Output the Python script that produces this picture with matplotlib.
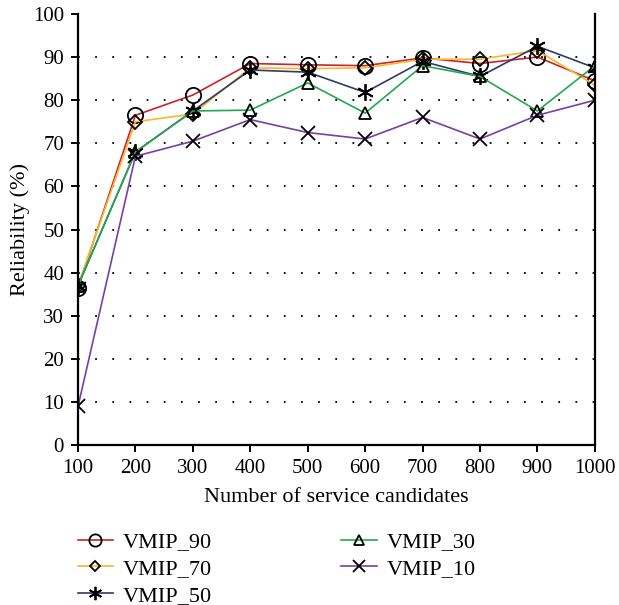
import matplotlib
matplotlib.use("Agg")
import matplotlib.pyplot as plt

plt.rcParams["font.family"] = "Liberation Serif"

candidates = [100, 200, 300, 400, 500, 600, 700, 800, 900, 1000]
vmip_90 = [36.5, 76.5, 81.2, 88.5, 88.2, 88.0, 89.8, 88.5, 90.0, 84.5]
vmip_70 = [37.0, 75.0, 76.8, 87.5, 87.3, 87.5, 89.5, 89.5, 91.5, 83.5]
vmip_50 = [37.0, 68.0, 77.5, 87.0, 86.5, 81.8, 89.0, 85.5, 92.5, 87.5]
vmip_30 = [37.0, 68.0, 77.5, 77.7, 84.0, 77.0, 88.0, 85.5, 77.5, 88.0]
vmip_10 = [9.0, 67.0, 70.5, 75.5, 72.5, 71.0, 76.0, 71.0, 76.5, 80.0]

fig = plt.figure(figsize=(6.19, 6.05), dpi=100)
ax = fig.add_axes([0.126, 0.264, 0.835, 0.713])

series = [
    ("VMIP_90", vmip_90, "#cc2229", "o", 11),
    ("VMIP_70", vmip_70, "#f5b82e", "D", 7),
    ("VMIP_50", vmip_50, "#2e3a6e", (6, 2, 0), 12),
    ("VMIP_30", vmip_30, "#22a94f", "^", 9),
    ("VMIP_10", vmip_10, "#7a3fa0", "x", 10),
]
for name, vals, col, mk, ms in series:
    ax.plot(candidates, vals, color=col, lw=1.2, marker=mk, ms=ms,
            mfc="none", mec="black", mew=1.3, label=name)

ax.set_xlim(100, 1000)
ax.set_ylim(0, 100)
ax.set_xticks(candidates)
ax.set_yticks(range(0, 101, 10))
for y in range(10, 100, 10):
    ax.axhline(y, color="black", lw=1.3, ls=(0, (1, 8.5)), zorder=0)
ax.spines["top"].set_visible(False)
for s in ["left", "bottom", "right"]:
    ax.spines[s].set_linewidth(1.6)
ax.tick_params(direction="out", width=1.4, length=5, labelsize=15, pad=5)
ax.set_xlabel("Number of service candidates", fontsize=16, labelpad=7)
ax.set_ylabel("Reliability (%)", fontsize=16, labelpad=2)

ax.legend(loc="upper left", bbox_to_anchor=(-0.018, -0.18), ncol=2, frameon=False,
          fontsize=16, columnspacing=5.8, handlelength=1.6, handletextpad=0.45,
          labelspacing=0.28, markerscale=0.8, borderaxespad=0)

fig.savefig("out.png", dpi=100)
